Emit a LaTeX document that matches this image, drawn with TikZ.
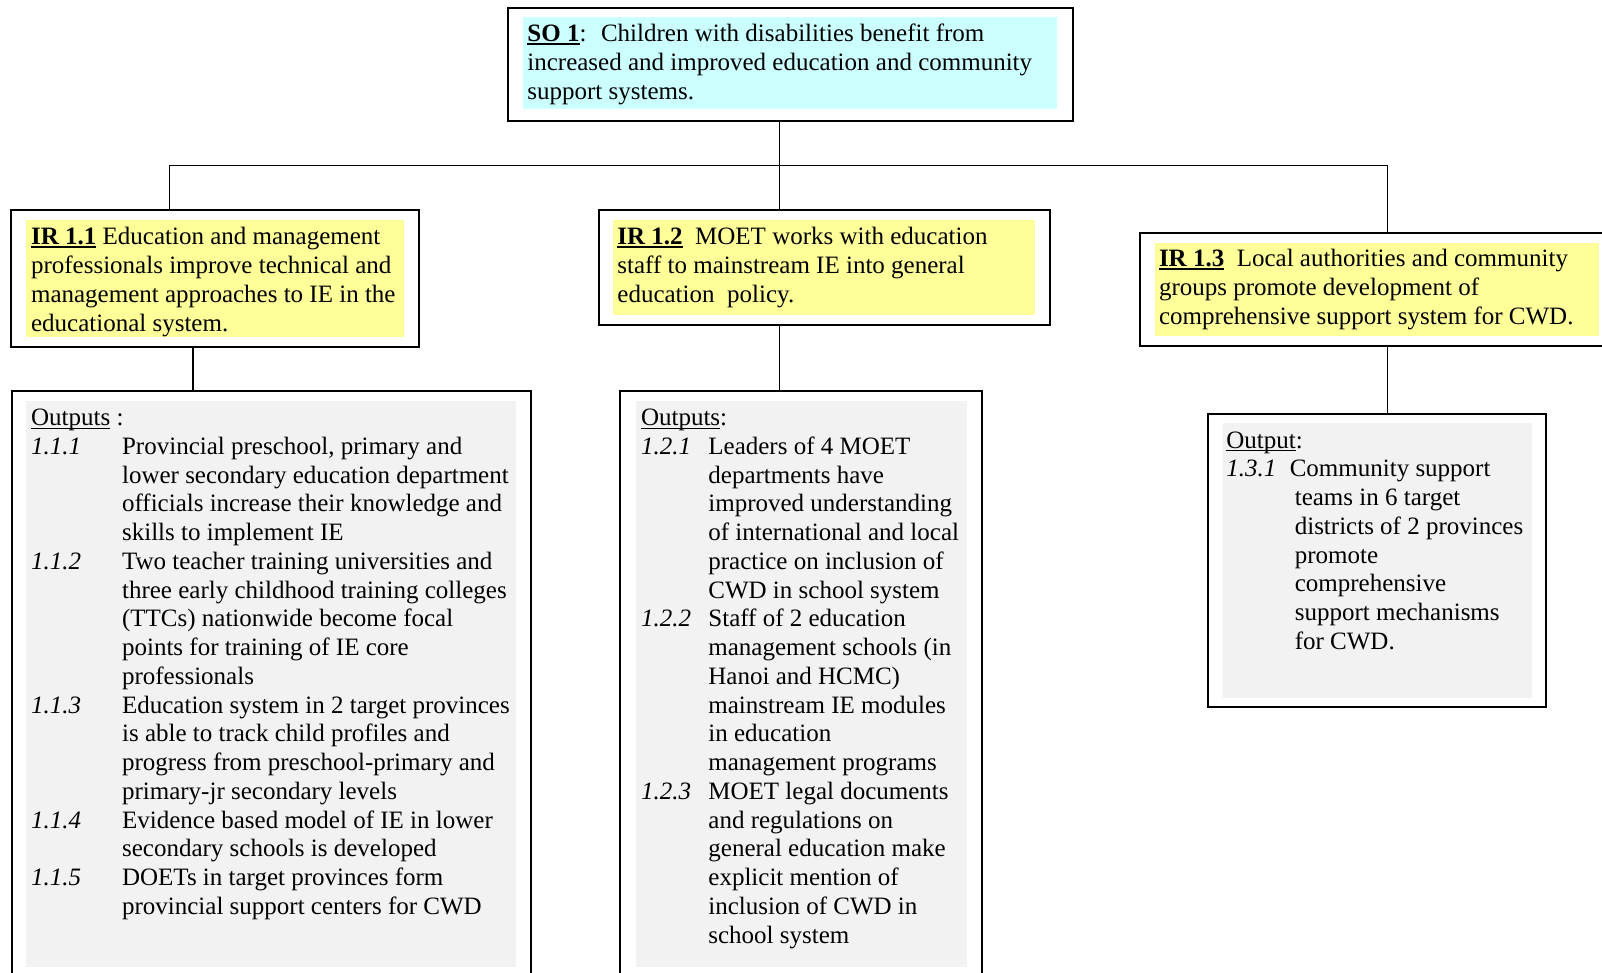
\documentclass[tikz,border=0pt]{standalone}
\usepackage{fontspec}
\setmainfont{Liberation Serif}
\usetikzlibrary{fit}
\definecolor{socyan}{HTML}{CCFFFF}
\definecolor{iryellow}{HTML}{FFFF99}
\definecolor{outgray}{HTML}{F2F2F2}
\newcommand\bodyfont{\fontsize{12.5pt}{14.38pt}\selectfont}
\newcommand\myul[2]{\setbox0\hbox{#2}\rlap{\rule[-1.7pt]{\wd0}{#1}}\box0\relax}
\newcommand\nb[2]{\makebox[#1][l]{\textit{#2}}}
\begin{document}
\begin{tikzpicture}[x=0.5pt,y=-0.5pt,
  every node/.style={font=\bodyfont},
  box/.style={draw=black, line width=1pt, inner sep=0pt, fill=white},
  fillbox/.style={inner sep=0pt, draw=none},
  txt/.style={anchor=base west, inner sep=0pt},
  conn/.style={draw=black, line width=0.85pt}]
\useasboundingbox (0,0) rectangle (1602,973);
\clip (0,0) rectangle (1602,973);
\fill[white] (0,0) rectangle (1602,973);

% boxes
\node[box, fit={(508,8) (1073,121)}] (so) {};
\node[fillbox, fill=socyan, fit={(523,17) (1057,109)}] (sofill) {};
\node[box, fit={(11,210.5) (419,347.4)}] (ir11) {};
\node[fillbox, fill=iryellow, fit={(25.5,219.7) (403.6,337.2)}] (ir11fill) {};
\node[box, fit={(598.7,210.5) (1050.3,325)}] (ir12) {};
\node[fillbox, fill=iryellow, fit={(613,219.7) (1035,314.7)}] (ir12fill) {};
\node[box, fit={(1139.5,233.5) (1612,346.5)}] (ir13) {};
\node[fillbox, fill=iryellow, fit={(1154.5,243) (1599,336)}] (ir13fill) {};
\node[box, fit={(11.5,391) (531,990)}] (out1) {};
\node[fillbox, fill=outgray, fit={(26,401.5) (516,967)}] (out1fill) {};
\node[box, fit={(620,391) (982,990)}] (out2) {};
\node[fillbox, fill=outgray, fit={(635.5,401.5) (966.5,967)}] (out2fill) {};
\node[box, fit={(1207.6,413.8) (1545.8,707)}] (out3) {};
\node[fillbox, fill=outgray, fit={(1223,423) (1531.5,697.8)}] (out3fill) {};

% connectors
\coordinate (b1) at (169.6,165.5);
\coordinate (c1) at (779.6,165.5);
\coordinate (b3) at (1387.5,165.5);
\coordinate (d1) at (193,370);
\draw[conn] (so.south -| c1) -- (ir12.north -| c1);
\draw[conn] (ir11.north -| b1) -- (b1) -- (b3) -- (ir13.north -| b3);
\draw[conn] (ir11.south -| d1) -- (out1.north -| d1);
\draw[conn] (ir12.south -| c1) -- (out2.north -| c1);
\draw[conn] (ir13.south -| b3) -- (out3.north -| b3);

% texts
\node[txt] (sotext) at (527,42) {\begin{tabular}[t]{@{}l@{}}
\myul{1.3pt}{\textbf{SO 1}}:~ Children with disabilities benefit from\\
increased and improved education and community\\
support systems.
\end{tabular}};

\node[txt] (ir11text) at (30.7,245) {\begin{tabular}[t]{@{}l@{}}
\myul{1.3pt}{\textbf{IR 1.1}} Education and management\\
professionals improve technical and\\
management approaches to IE in the\\
educational system.
\end{tabular}};

\node[txt] (ir12text) at (617,245) {\begin{tabular}[t]{@{}l@{}}
\myul{1.3pt}{\textbf{IR 1.2}}~ MOET works with education\\
staff to mainstream IE into general\\
education~ policy.
\end{tabular}};

\node[txt] (ir13text) at (1158.6,267) {\begin{tabular}[t]{@{}l@{}}
\myul{1.3pt}{\textbf{IR 1.3}}~ Local authorities and community\\
groups promote development of\\
comprehensive support system for CWD.
\end{tabular}};

\node[txt] (out1text) at (30.7,425.5) {\begin{tabular}[t]{@{}l@{}}
\myul{0.6pt}{Outputs} :\\
\nb{45.5pt}{1.1.1}Provincial preschool, primary and\\
\hspace*{45.5pt}lower secondary education department\\
\hspace*{45.5pt}officials increase their knowledge and\\
\hspace*{45.5pt}skills to implement IE\\
\nb{45.5pt}{1.1.2}Two teacher training universities and\\
\hspace*{45.5pt}three early childhood training colleges\\
\hspace*{45.5pt}(TTCs) nationwide become focal\\
\hspace*{45.5pt}points for training of IE core\\
\hspace*{45.5pt}professionals\\
\nb{45.5pt}{1.1.3}Education system in 2 target provinces\\
\hspace*{45.5pt}is able to track child profiles and\\
\hspace*{45.5pt}progress from preschool-primary and\\
\hspace*{45.5pt}primary-jr secondary levels\\
\nb{45.5pt}{1.1.4}Evidence based model of IE in lower\\
\hspace*{45.5pt}secondary schools is developed\\
\nb{45.5pt}{1.1.5}DOETs in target provinces form\\
\hspace*{45.5pt}provincial support centers for CWD
\end{tabular}};

\node[txt] (out2text) at (640.6,425.5) {\begin{tabular}[t]{@{}l@{}}
\myul{0.6pt}{Outputs}:\\
\nb{33.7pt}{1.2.1}Leaders of 4 MOET\\
\hspace*{33.7pt}departments have\\
\hspace*{33.7pt}improved understanding\\
\hspace*{33.7pt}of international and local\\
\hspace*{33.7pt}practice on inclusion of\\
\hspace*{33.7pt}CWD in school system\\
\nb{33.7pt}{1.2.2}Staff of 2 education\\
\hspace*{33.7pt}management schools (in\\
\hspace*{33.7pt}Hanoi and HCMC)\\
\hspace*{33.7pt}mainstream IE modules\\
\hspace*{33.7pt}in education\\
\hspace*{33.7pt}management programs\\
\nb{33.7pt}{1.2.3}MOET legal documents\\
\hspace*{33.7pt}and regulations on\\
\hspace*{33.7pt}general education make\\
\hspace*{33.7pt}explicit mention of\\
\hspace*{33.7pt}inclusion of CWD in\\
\hspace*{33.7pt}school system
\end{tabular}};

\node[txt] (out3text) at (1226,448) {\begin{tabular}[t]{@{}l@{}}
\myul{0.6pt}{Output}:\\
\nb{31.7pt}{1.3.1}Community support\\
\hspace*{34.2pt}teams in 6 target\\
\hspace*{34.2pt}districts of 2 provinces\\
\hspace*{34.2pt}promote\\
\hspace*{34.2pt}comprehensive\\
\hspace*{34.2pt}support mechanisms\\
\hspace*{34.2pt}for CWD.
\end{tabular}};
\end{tikzpicture}
\end{document}
